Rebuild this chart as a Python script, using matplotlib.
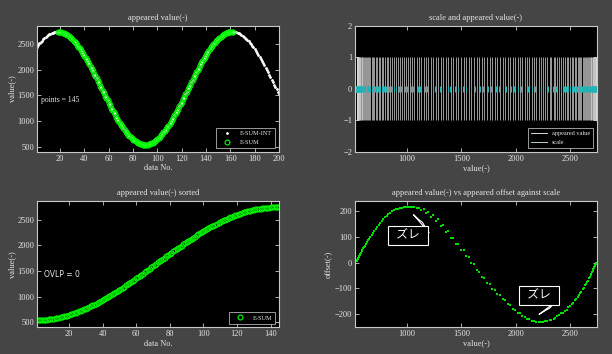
import numpy as np
import matplotlib
matplotlib.use("Agg")
from matplotlib import pyplot as plt
from matplotlib.lines import Line2D

# appeared value for data No. 1..200 (E-SUM-INT)
values = [2451, 2483, 2513, 2541, 2568, 2593, 2616, 2637, 2656, 2674, 2689, 2702, 2714, 2723, 2731, 2736, 2739,
          2740, 2739, 2736, 2731, 2723, 2714, 2702, 2689, 2674, 2656, 2637, 2616, 2593, 2568, 2541, 2513, 2483,
          2451, 2418, 2383, 2347, 2310, 2271, 2231, 2190, 2148, 2105, 2061, 2016, 1971, 1925, 1878, 1831, 1784,
          1736, 1688, 1640, 1592, 1544, 1496, 1449, 1402, 1355, 1309, 1264, 1219, 1175, 1132, 1090, 1049, 1009,
          970, 933, 897, 862, 829, 797, 767, 739, 712, 687, 664, 643, 624, 606, 591, 578, 566, 557, 549, 544,
          541, 540,
          542, 546, 553, 561, 572, 584, 598, 615, 633, 653, 675, 699, 725, 753, 782, 813, 845, 879, 915, 951,
          989, 1029, 1069, 1111, 1153, 1197, 1241, 1286, 1332, 1378, 1425, 1472, 1520, 1568, 1616, 1664, 1712,
          1760, 1807, 1854, 1901, 1948, 1993, 2038, 2083, 2126, 2169, 2210, 2251, 2290, 2328, 2365, 2400, 2434,
          2467, 2498, 2527, 2554, 2580, 2604, 2626, 2646, 2665, 2681, 2695, 2708, 2718, 2727, 2733, 2737, 2739,
          2739,
          2737, 2733, 2727, 2718, 2708, 2695, 2681, 2665, 2646, 2626, 2604, 2580, 2554, 2527, 2498, 2467, 2434,
          2400, 2365, 2328, 2290, 2251, 2210, 2169, 2126, 2083, 2038, 1993, 1948, 1901, 1854, 1807, 1760, 1712,
          1664, 1616, 1568, 1520]
first_no = 18   # E-SUM starts here
last_no = 162   # and ends here

# appeared offset against scale for E-SUM points (data No. 18..162)
offsets = [0, -1, -4, -9, -17, -26, -38, -49, -61, -75, -89, -104, -119, -133, -147, -161, -174, -187, -198,
           -208, -218, -224, -229, -231, -230, -226, -219, -209, -195, -180, -162, -142, -122, -102, -79, -56,
           -29, -1, 26, 50, 72, 94, 118, 141, 162, 179, 193, 204, 211, 216, 218, 217, 214, 208, 201, 190, 179,
           163, 148, 132, 116, 101, 87, 74, 61, 50, 39, 29, 22, 15, 11, 9, 8,
           10, 13, 18, 26, 34, 44, 55, 66, 79, 93, 107, 122, 138, 154, 168, 182, 194, 204, 210, 214, 217, 218,
           216, 214, 208, 198, 186, 169, 148, 122, 96, 72, 48, 22, -6, -36, -62, -85, -106, -127, -147, -166,
           -183, -198, -211, -220, -226, -230, -230, -228, -222, -215, -206, -195, -183, -170, -157, -143, -128,
           -114, -98, -84, -70, -56, -44, -32, -22, -13, -6, -2, -1, -1]
ovlp = 0

values = np.array(values)
data_no = np.arange(1, len(values) + 1)
e_sum = values[first_no - 1:last_no]
e_no = data_no[first_no - 1:last_no]
offsets = np.array(offsets)
scale = e_sum - offsets
e_sorted = np.sort(e_sum)

bg = '#454545'
fg = '#e6e6e6'
plt.rcParams['font.family'] = ['Liberation Serif', 'DejaVu Sans']
plt.rcParams['font.size'] = 6

fig = plt.figure(figsize=(6.12, 3.54), dpi=100, facecolor=bg)
w, h = 0.3954, 0.3573
ax1 = fig.add_axes([0.0605, 0.5706, w, h])
ax2 = fig.add_axes([0.580, 0.5706, w, h])
ax3 = fig.add_axes([0.0605, 0.0749, w, h])
ax4 = fig.add_axes([0.580, 0.0749, w, h])

for ax in (ax1, ax2, ax3, ax4):
    ax.set_facecolor('black')
    for s in ax.spines.values():
        s.set_color('#c8c8c8')
        s.set_linewidth(0.8)
    ax.tick_params(direction='in', top=True, right=True, length=3, width=0.6,
                   color='#c8c8c8', labelcolor=fg, labelsize=6, pad=2)


def deco(ax, title, xlabel, ylabel):
    ax.set_title(title, color=fg, fontsize=6, pad=4)
    ax.set_xlabel(xlabel, color=fg, fontsize=6, labelpad=1)
    if ylabel:
        ax.set_ylabel(ylabel, color=fg, fontsize=6, labelpad=1)


def leg(ax, handles, labels):
    lg = ax.legend(handles, labels, loc='lower right', fontsize=4.5, frameon=True,
                   fancybox=False, facecolor='black', edgecolor='#e0e0e0',
                   handlelength=2.5, borderpad=0.5, labelspacing=0.6, borderaxespad=0.6)
    lg.get_frame().set_linewidth(0.6)
    for t in lg.get_texts():
        t.set_color(fg)


# appeared value
ax1.plot(data_no, values, '.', color='white', ms=2)
ax1.plot(e_no, e_sum, 'o', mfc='none', mec='#00ff00', ms=3.6, mew=0.7)
ax1.set_xlim(1, 200)
ax1.set_ylim(400, 2860)
ax1.set_xticks(range(20, 201, 20))
ax1.set_yticks(range(500, 2501, 500))
ax1.text(0.015, 0.41, 'points = %d' % len(e_sum), transform=ax1.transAxes, color=fg,
         fontsize=5.5, va='center')
deco(ax1, 'appeared value(-)', 'data No.', 'value(-)')
leg(ax1, [Line2D([], [], ls='', marker='.', color='white', ms=2),
          Line2D([], [], ls='', marker='o', mfc='none', mec='#00ff00', ms=3.5, mew=0.8)],
    ['E-SUM-INT', 'E-SUM'])

# scale and appeared value
ax2.vlines(e_sum, -1, 1, colors='#d8d8d8', lw=0.5)
ax2.vlines(scale, -0.1, 0.1, colors='#22b4b4', lw=0.8)
ax2.set_xlim(522, 2746)
ax2.set_ylim(-2, 2)
ax2.set_xticks([1000, 1500, 2000, 2500])
ax2.set_yticks([-2, -1, 0, 1, 2])
deco(ax2, 'scale and appeared value(-)', 'value(-)', None)
leg(ax2, [Line2D([], [], color='white', lw=0.6), Line2D([], [], color='#d8f0f0', lw=0.6)],
    ['appeared value', 'scale'])

# sorted
ax3.plot(np.arange(1, len(e_sorted) + 1), e_sorted, 'o', mfc='none', mec='#00ff00', ms=3.6, mew=0.7)
ax3.set_xlim(1, 145)
ax3.set_ylim(400, 2860)
ax3.set_xticks(range(20, 141, 20))
ax3.set_yticks(range(500, 2501, 500))
ax3.text(0.027, 0.42, 'OVLP = %d' % ovlp, transform=ax3.transAxes, color=fg,
         fontsize=5.5, va='center', family=['DejaVu Sans'])
deco(ax3, 'appeared value(-) sorted', 'data No.', 'value(-)')
leg(ax3, [Line2D([], [], ls='', marker='o', mfc='none', mec='#00ff00', ms=3.5, mew=0.8)], ['E-SUM'])

# offset
ax4.plot(e_sum, offsets, 's', color='#00e000', ms=1.5, mew=0)
ax4.set_xlim(522, 2746)
ax4.set_ylim(-253, 240)
ax4.set_xticks([1000, 1500, 2000, 2500])
ax4.set_yticks([-200, -100, 0, 100, 200])
deco(ax4, 'appeared value(-) vs appeared offset against scale', 'value(-)', 'offset(-)')
jp = ['Noto Sans CJK JP', 'DejaVu Sans']
box = dict(boxstyle='square,pad=0.25', fc='black', ec='white', lw=0.8)
arr = dict(arrowstyle='wedge,tail_width=2.0,shrink_factor=0.4', fc='black', ec='white', lw=0.8)
ax4.annotate('  ズレ  ', xy=(1163, 163), xytext=(1006, 106), ha='center', va='center',
             color='white', fontsize=8.5, family=jp, bbox=box, arrowprops=arr)
ax4.annotate('  ズレ  ', xy=(2324, -187), xytext=(2216, -127), ha='center', va='center',
             color='white', fontsize=8.5, family=jp, bbox=box, arrowprops=arr)

fig.savefig('out.png', dpi=100, facecolor=bg)
